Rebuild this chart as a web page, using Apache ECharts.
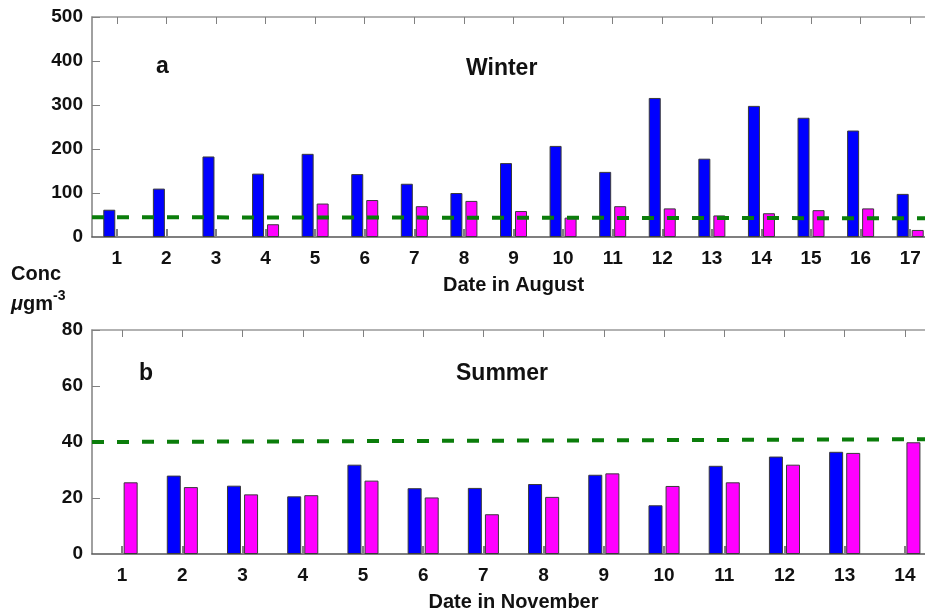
<!DOCTYPE html>
<html>
<head>
<meta charset="utf-8">
<script src="https://cdn.jsdelivr.net/npm/echarts@6/dist/echarts.min.js"></script>
<style>
  html, body { margin: 0; padding: 0; background: #fff; overflow: hidden; }
  /* the figure is cropped on its right side, so the canvas runs a little past the window */
  #chart { width: 936px; height: 610px; }
</style>
</head>
<body>
<div id="chart"></div>
<script>
// panel a: winter (August)
const augDays = ['1','2','3','4','5','6','7','8','9','10','11','12','13','14','15','16','17'];
const winterBlue = [62, 110, 183, 144, 189, 143, 121, 100, 168, 207, 148, 316, 178, 298, 271, 242, 98];
const winterPink = [null, null, null, 29, 76, 84, 70, 82, 59, 44, 70, 65, 49, 54, 61, 65, 16];
const winterGuide = [[0.5, 45], [17.5, 42.5]];

// panel b: summer (November)
const novDays = ['1','2','3','4','5','6','7','8','9','10','11','12','13','14'];
const summerBlue = [null, 28, 24.4, 20.6, 31.9, 23.5, 23.6, 25, 28.3, 17.4, 31.5, 34.8, 36.5, null];
const summerPink = [25.6, 23.9, 21.3, 21, 26.2, 20.2, 14.2, 20.4, 28.8, 24.3, 25.6, 31.9, 36.1, 39.9];
const summerGuide = [[0.5, 40], [14.5, 41]];

const FONT = "'Liberation Sans', Arial, sans-serif";
const AXIS_GREY = '#808080';
const BLUE = '#0000ff';
const PINK = '#ff00ff';
const GREEN = '#0b7d0b';

const labelStyle = { color: '#111', fontFamily: FONT, fontWeight: 'bold', fontSize: 19 };

function bottomAxis(grid, cats, name) {
  return {
    type: 'category', gridIndex: grid, position: 'bottom', data: cats,
    axisLine: { show: true, onZero: false, lineStyle: { color: '#555', width: 1.5 } },
    axisTick: { show: true, interval: 0, inside: true, alignWithLabel: true, length: 8,
                lineStyle: { color: AXIS_GREY, width: 2 } },
    axisLabel: Object.assign({ interval: 0, margin: 12 }, labelStyle),
    name: name, nameLocation: 'middle', nameGap: 38, nameMoveOverlap: false,
    nameTextStyle: { color: '#111', fontFamily: FONT, fontWeight: 'bold', fontSize: 20 }
  };
}
function topAxis(grid, cats) {
  return {
    type: 'category', gridIndex: grid, position: 'top', data: cats,
    axisLine: { show: true, onZero: false, lineStyle: { color: '#999', width: 1.5 } },
    axisTick: { show: true, interval: 0, inside: true, alignWithLabel: true, length: 7,
                lineStyle: { color: AXIS_GREY } },
    axisLabel: { show: false }
  };
}
function guideAxis(grid, n) {
  return { type: 'value', gridIndex: grid, min: 0.5, max: n + 0.5, show: false };
}
function leftAxis(grid, max, step) {
  return {
    type: 'value', gridIndex: grid, position: 'left', min: 0, max: max, interval: step,
    axisLine: { show: true, onZero: false, lineStyle: { color: AXIS_GREY, width: 1.5 } },
    axisTick: { show: true, inside: true, length: 8, lineStyle: { color: AXIS_GREY } },
    axisLabel: Object.assign({ margin: 9 }, labelStyle),
    splitLine: { show: false }
  };
}
function rightAxis(grid, max, step) {
  return {
    type: 'value', gridIndex: grid, position: 'right', min: 0, max: max, interval: step,
    axisLine: { show: true, onZero: false, lineStyle: { color: '#999', width: 1.5 } },
    axisTick: { show: true, inside: true, length: 8, lineStyle: { color: AXIS_GREY } },
    axisLabel: { show: false },
    splitLine: { show: false }
  };
}
function bars(xi, yi, data, color, width, gap) {
  return {
    type: 'bar', xAxisIndex: xi, yAxisIndex: yi, data: data,
    barWidth: width, barGap: gap,
    itemStyle: { color: color, borderColor: '#3a3a3a', borderWidth: 1 }
  };
}
function guide(xi, yi, data) {
  return {
    type: 'line', xAxisIndex: xi, yAxisIndex: yi, data: data, z: 5,
    symbol: 'none', silent: true,
    lineStyle: { color: GREEN, width: 4, type: [12, 13] }
  };
}

const panelText = { color: '#111', fontFamily: FONT, fontWeight: 'bold', fontSize: 23 };
const concRich = { fontFamily: FONT, fontWeight: 'bold', fontSize: 20, color: '#111', lineHeight: 30 };

const option = {
  animation: false,
  backgroundColor: '#fff',
  grid: [
    { left: 92, right: 1, top: 17, height: 220, outerBoundsMode: 'none' },
    { left: 92, right: 1, top: 330, height: 224, outerBoundsMode: 'none' }
  ],
  xAxis: [
    bottomAxis(0, augDays, 'Date in August'),
    topAxis(0, augDays),
    guideAxis(0, augDays.length),
    bottomAxis(1, novDays, 'Date in November'),
    topAxis(1, novDays),
    guideAxis(1, novDays.length)
  ],
  yAxis: [
    leftAxis(0, 500, 100),
    rightAxis(0, 500, 100),
    leftAxis(1, 80, 20),
    rightAxis(1, 80, 20)
  ],
  title: [
    { text: 'a', left: 151, top: 50, textStyle: panelText },
    { text: 'Winter', left: 461, top: 52, textStyle: panelText },
    { text: 'b', left: 134, top: 357, textStyle: panelText },
    { text: 'Summer', left: 451, top: 357, textStyle: panelText },
    {
      text: '{c|Conc}\n{m|\u03bc}{g|gm}{s|-3}', left: 6, top: 254,
      textStyle: {
        rich: {
          c: concRich,
          m: Object.assign({}, concRich, { fontStyle: 'italic' }),
          g: concRich,
          s: Object.assign({}, concRich, { fontSize: 14, verticalAlign: 'top' })
        }
      }
    }
  ],
  series: [
    bars(0, 0, winterBlue, BLUE, 12, '25%'),
    bars(0, 0, winterPink, PINK, 12, '25%'),
    guide(2, 0, winterGuide),
    bars(3, 2, summerBlue, BLUE, 14, '22%'),
    bars(3, 2, summerPink, PINK, 14, '22%'),
    guide(5, 2, summerGuide)
  ]
};

const chart = echarts.init(document.getElementById('chart'));
chart.setOption(option);
</script>
</body>
</html>
